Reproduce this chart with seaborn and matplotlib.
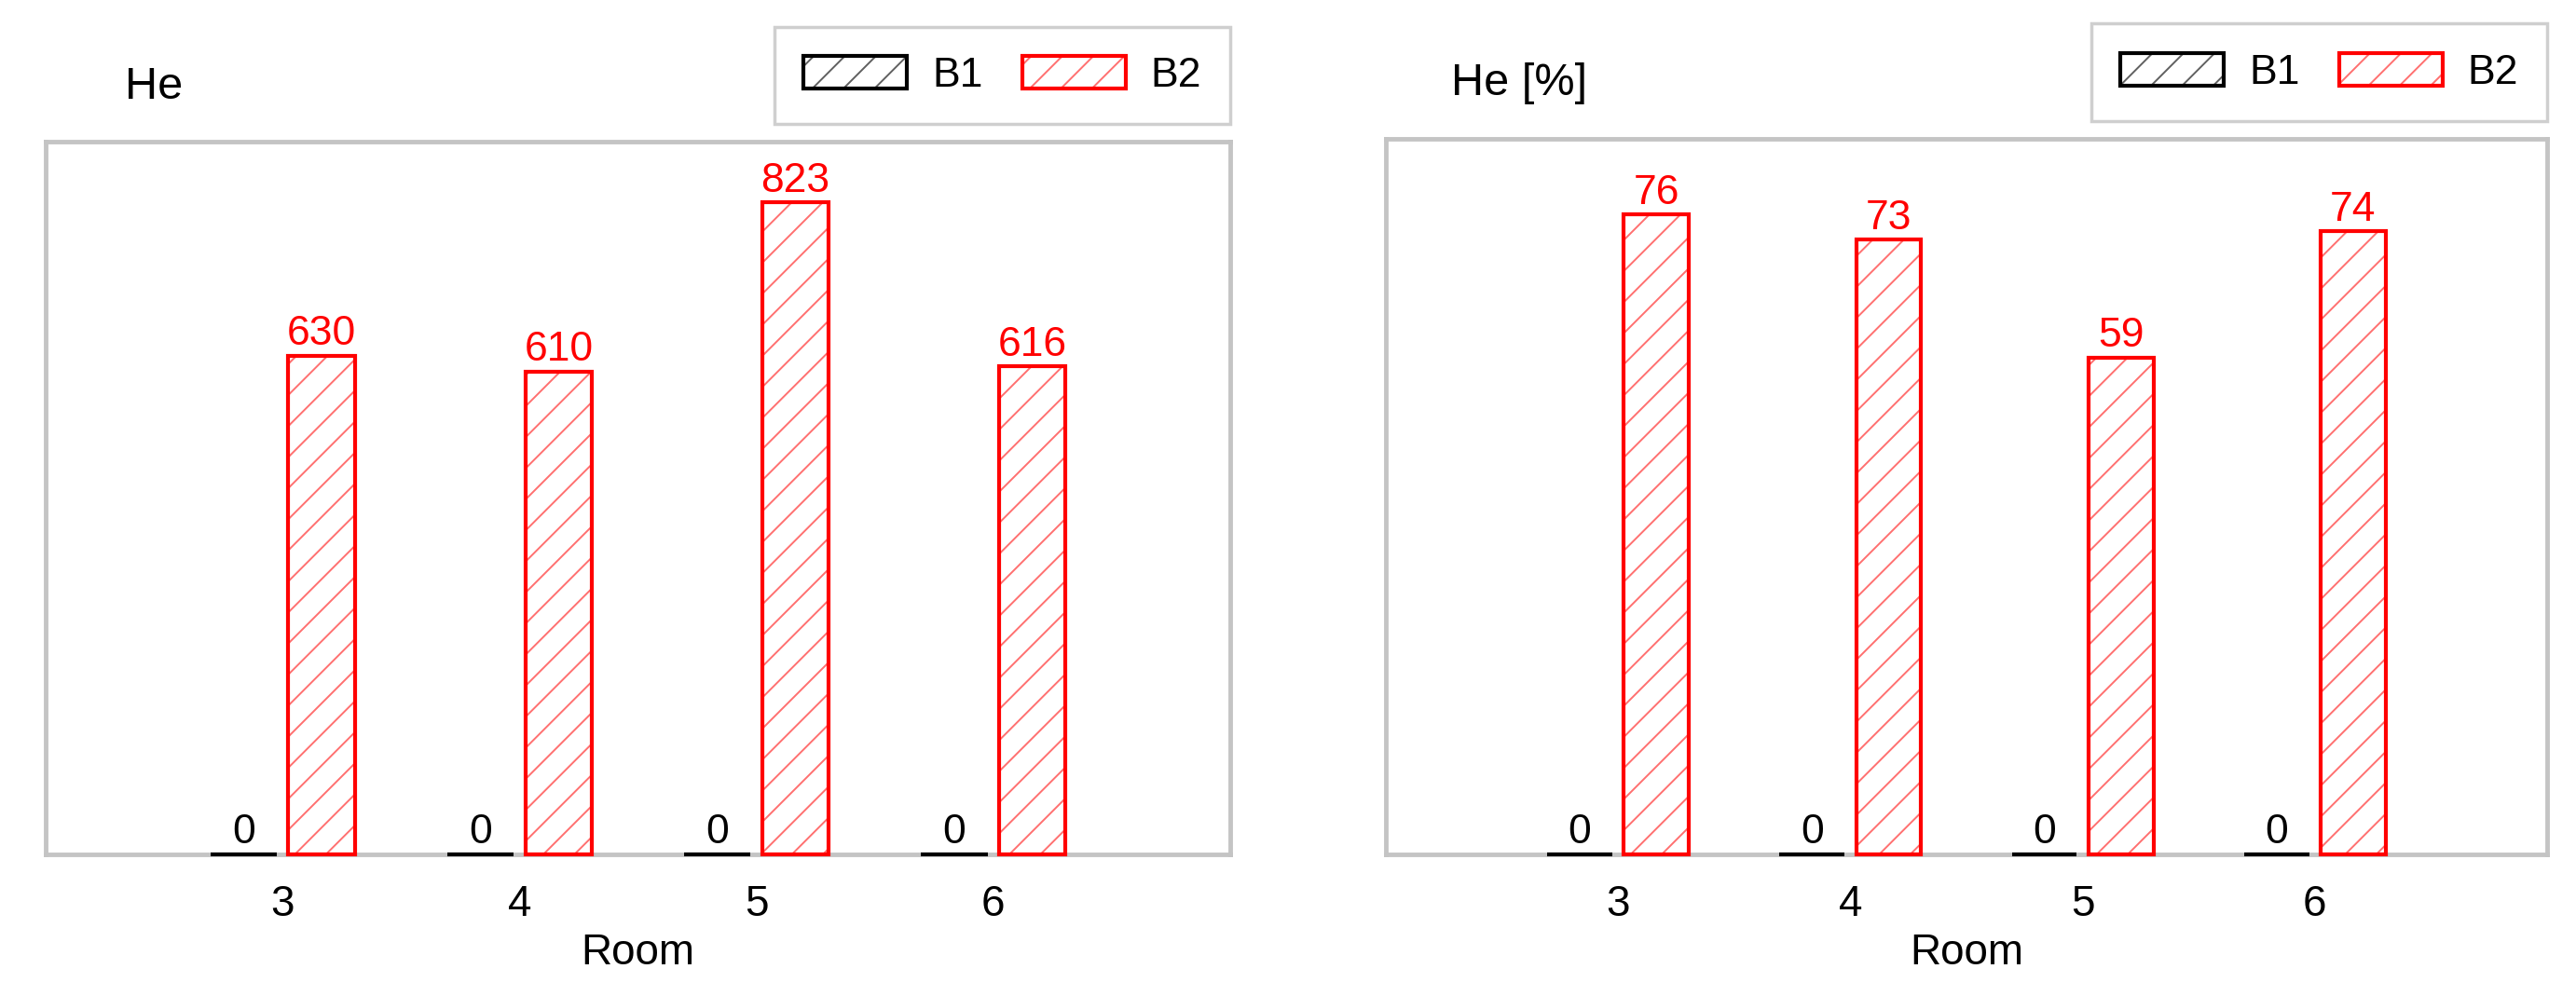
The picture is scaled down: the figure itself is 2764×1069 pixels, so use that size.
import pandas as pd
import matplotlib
matplotlib.use('Agg')
import matplotlib.pyplot as plt
import matplotlib.colors as mcolors
import seaborn as sns
from matplotlib.patches import Patch

# data
rooms = ['3', '4', '5', '6']
series = ['B1', 'B2']
he_b1 = [0, 0, 0, 0]
he_b2 = [630, 610, 823, 616]
he_pct_b1 = [0, 0, 0, 0]
he_pct_b2 = [76, 73, 59, 74]

colors = {'B1': 'black', 'B2': 'red'}
hatch_colors = {'B1': '#606060', 'B2': '#ff7070'}
frame_grey = '#c4c4c4'

sns.set_theme(style='white')
plt.rcParams['font.family'] = ['Liberation Sans', 'DejaVu Sans']
plt.rcParams['hatch.linewidth'] = 1.4
plt.rcParams['text.color'] = 'black'
plt.rcParams['axes.labelcolor'] = 'black'
plt.rcParams['xtick.color'] = 'black'

W, H = 2764, 1069
fig = plt.figure(figsize=(W / 100, H / 100), dpi=100)

panels = [
    ('He', he_b1, he_b2, 900, [49, 152, 1320, 917], 0.067),
    ('He [%]', he_pct_b1, he_pct_b2, 85, [1487, 149, 2733, 917], 0.056),
]


def style_hatch(patch, name):
    """Lighter hatch lines than the bar outline"""
    patch.set_hatch('/')
    if hasattr(patch, 'set_hatchcolor'):
        patch.set_hatchcolor(hatch_colors[name])
    else:
        patch._hatch_color = mcolors.to_rgba(hatch_colors[name])


for title, b1, b2, ymax, box, tx in panels:
    x0, y0, x1, y1 = box
    ax = fig.add_axes([x0 / W, 1 - y1 / H, (x1 - x0) / W, (y1 - y0) / H])

    df = pd.DataFrame({
        'Room': rooms * 2,
        'Series': ['B1'] * len(rooms) + ['B2'] * len(rooms),
        'Value': b1 + b2,
    })

    sns.barplot(data=df, x='Room', y='Value', hue='Series', hue_order=series,
                palette=colors, fill=False, width=0.66, gap=0.15,
                linewidth=3.0, legend=False, errorbar=None, ax=ax)

    # hatch the bars and label them
    for container, name, vals in zip(ax.containers, series, [b1, b2]):
        for bar in container:
            style_hatch(bar, name)
            bar.set_clip_on(False)
            bar.set_zorder(3)
        ax.bar_label(container, labels=[f'{v:g}' for v in vals],
                     color=colors[name], fontsize=32, padding=2)

    ax.set_xlim(-1, 4)
    ax.set_ylim(0, ymax)
    ax.set_yticks([])
    ax.set_ylabel('')
    ax.set_xlabel('Room', fontsize=33, labelpad=6, color='black')
    ax.tick_params(axis='x', length=0, pad=23, labelsize=33, labelcolor='black')

    for side in ['left', 'right', 'top', 'bottom']:
        ax.spines[side].set_visible(True)
        ax.spines[side].set_color(frame_grey)
        ax.spines[side].set_linewidth(3.5)

    ax.text(tx, 1.077, title, transform=ax.transAxes, fontsize=35,
            va='center', ha='left', color='black')

    handles = []
    for s in series:
        p = Patch(facecolor='white', edgecolor=colors[s], linewidth=3.0)
        style_hatch(p, s)
        handles.append(p)
    leg = ax.legend(handles, series, loc='lower right', bbox_to_anchor=(1, 1.025),
                    ncol=2, frameon=True, fancybox=False, fontsize=32,
                    handlelength=2.5, handleheight=0.85, handletextpad=0.6,
                    columnspacing=0.95, borderpad=0.7, borderaxespad=0,
                    labelcolor='black')
    leg.get_frame().set_edgecolor(frame_grey)
    leg.get_frame().set_linewidth(2.5)

fig.savefig('out.png', dpi=100)
